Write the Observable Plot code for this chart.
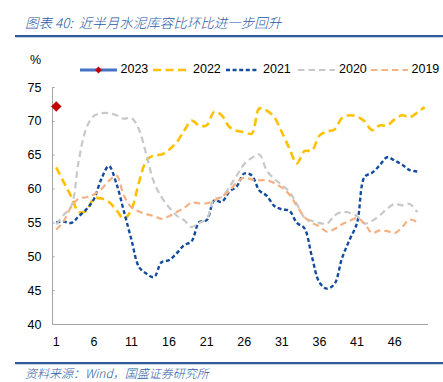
<!DOCTYPE html>
<html><head><meta charset="utf-8">
<script src="https://cdn.jsdelivr.net/npm/d3@7"></script>
<script src="https://cdn.jsdelivr.net/npm/@observablehq/plot@0.6"></script>
<style>
body{margin:0;background:#fff;}
#wrap{position:relative;width:443px;height:382px;overflow:hidden;font-family:"Liberation Sans",Arial,sans-serif;color:#000;}
.title{position:absolute;left:25px;top:13px;font-family:"Noto Sans CJK SC",sans-serif;font-style:italic;font-weight:300;font-size:13.5px;line-height:18px;color:#2A5AA6;white-space:nowrap;}
.source{position:absolute;left:25px;top:365px;font-family:"Noto Sans CJK SC",sans-serif;font-style:italic;font-weight:300;font-size:12px;line-height:16px;color:#2A5AA6;white-space:nowrap;}
.rule{position:absolute;left:15px;width:428px;height:2px;background:#2E5A9C;box-shadow:0 1px 1px #BFD0E8;}
.unit{position:absolute;left:30px;top:52px;font-size:12.5px;line-height:16px;}
.lg{position:absolute;top:62px;font-size:12.5px;line-height:15px;white-space:nowrap;}
.sw{position:absolute;top:63px;}
#plot{position:absolute;left:0;top:76px;}
</style></head>
<body><div id="wrap">
<div class="title">图表 40:&nbsp; 近半月水泥库容比环比进一步回升</div>
<div class="rule" style="top:35px"></div>
<div class="unit">%</div>
<div id="legend"></div>
<div id="plot"></div>
<div class="rule" style="top:362px"></div>
<div class="source">资料来源：Wind，国盛证券研究所</div>
</div>
<script>
const weeks = d3.range(1, 51);
const xTicks = [1, 6, 11, 16, 21, 26, 31, 36, 41, 46];
const yTicks = [40, 45, 50, 55, 60, 65, 70, 75];
const seriesNames = ["2023", "2022", "2021", "2020", "2019"];
const s2023 = [72.2];
const s2022 = [63.2, 61.0, 58.9, 56.6, 56.8, 58.6, 58.6, 58.1, 56.9, 55.6,
  57.0, 61.0, 64.2, 65.0, 65.1, 65.8, 66.9, 68.6, 70.1, 69.4,
  69.4, 71.4, 70.9, 69.2, 68.6, 68.4, 68.2, 71.9, 71.6, 70.6,
  68.4, 66.0, 63.8, 65.6, 65.7, 67.9, 68.5, 68.8, 70.5, 70.9,
  70.7, 70.0, 68.7, 69.4, 69.4, 70.3, 70.9, 70.6, 71.3, 72.1];
const s2021 = [55.1, 55.2, 55.0, 56.0, 57.0, 58.5, 61.5, 63.4, 60.8, 56.7,
  52.5, 48.5, 47.5, 47.0, 49.2, 49.5, 50.5, 51.7, 52.3, 55.1,
  55.4, 58.3, 58.1, 59.6, 60.4, 62.3, 62.0, 59.8, 59.0, 57.5,
  57.0, 56.8, 55.0, 54.2, 50.0, 46.2, 45.3, 46.0, 49.8, 52.5,
  55.0, 61.8, 62.4, 63.5, 64.7, 64.2, 63.6, 62.8, 62.6];
const s2020 = [54.8, 56.2, 57.5, 64.3, 69.0, 70.8, 71.2, 71.2, 70.9, 70.4,
  70.5, 68.8, 65.0, 61.0, 58.8, 57.3, 56.1, 55.4, 54.4, 55.0,
  55.6, 58.5, 58.8, 60.3, 62.0, 63.7, 64.6, 65.1, 62.7, 61.5,
  60.6, 59.6, 57.8, 55.8, 55.3, 55.0, 54.9, 56.1, 56.6, 56.5,
  56.0, 54.9, 55.3, 56.1, 57.1, 57.8, 57.6, 57.8, 56.6];
const s2019 = [54.0, 55.3, 57.4, 58.6, 58.8, 59.2, 60.0, 61.2, 62.0, 59.0,
  57.3, 56.7, 56.3, 56.0, 55.6, 56.0, 56.6, 57.2, 58.0, 57.9,
  57.9, 58.3, 58.9, 59.7, 61.0, 61.7, 61.4, 61.3, 61.3, 60.9,
  60.2, 59.2, 57.5, 55.9, 55.0, 54.5, 53.7, 54.1, 54.8, 55.3,
  55.7, 54.9, 53.5, 53.9, 53.8, 53.5, 54.4, 55.5, 55.1];

const styles = {
  "2022": {stroke: "#FFC000", width: 2.6, dash: "8,4.5"},
  "2021": {stroke: "#134C9E", width: 2.4, dash: "4,2.6"},
  "2020": {stroke: "#C8C8C8", width: 2.2, dash: "6.5,4"},
  "2019": {stroke: "#F4B183", width: 2.2, dash: "6.5,4"}
};
const toRows = (vals) => vals.map((v, i) => ({week: weeks[i], value: v}));

const axisColor = "#A6A6A6";
const marks = [
  Plot.ruleY([40], {stroke: axisColor, strokeWidth: 1}),
  Plot.ruleX([0.5], {y1: 40, y2: 75, stroke: axisColor, strokeWidth: 1}),
  Plot.ruleY(yTicks, {x1: 0.5, x2: 0.85, stroke: axisColor, strokeWidth: 1}),
  Plot.axisY(yTicks, {tickSize: 0, tickPadding: 11, fontSize: 12.5, fill: "#000", label: null}),
  Plot.axisX(xTicks, {tickSize: 0, tickPadding: 13, fontSize: 12.5, fill: "#000", label: null})
];
[["2022", s2022], ["2021", s2021], ["2020", s2020], ["2019", s2019]].forEach(([name, vals]) => {
  const st = styles[name];
  marks.push(Plot.line(toRows(vals), {x: "week", y: "value", stroke: st.stroke, strokeWidth: st.width,
    strokeDasharray: st.dash, curve: "catmull-rom", strokeLinecap: "butt"}));
});
marks.push(Plot.dot(toRows(s2023), {x: "week", y: "value", symbol: "diamond2", r: 4.5, fill: "#C00000", stroke: "#C00000", strokeWidth: 0.5}));

const chart = Plot.plot({
  width: 443, height: 275,
  marginLeft: 52, marginRight: 15, marginTop: 11, marginBottom: 27,
  x: {domain: [0.5, 50.5], axis: null, label: null},
  y: {domain: [40, 75], axis: null, label: null},
  style: {fontFamily: "'Liberation Sans', Arial, sans-serif", background: "transparent", overflow: "visible"},
  marks
});
document.getElementById("plot").appendChild(chart);

// legend
const legendItems = [
  {name: seriesNames[0], x1: 80, x2: 117, tx: 120.5, stroke: "#4472C4", width: 3.2, dash: null, marker: true},
  {name: seriesNames[1], x1: 153, x2: 188.5, tx: 193, ...styles["2022"]},
  {name: seriesNames[2], x1: 226, x2: 258.5, tx: 263, ...styles["2021"]},
  {name: seriesNames[3], x1: 298, x2: 335, tx: 339, ...styles["2020"]},
  {name: seriesNames[4], x1: 370.5, x2: 407.5, tx: 411.5, ...styles["2019"]}
];
const lg = document.getElementById("legend");
legendItems.forEach(it => {
  const w = it.x2 - it.x1;
  const svg = d3.create("svg").attr("class", "sw").attr("width", w).attr("height", 12)
    .style("left", it.x1 + "px").style("top", "63.5px");
  svg.append("line").attr("x1", 0).attr("x2", w).attr("y1", 6).attr("y2", 6)
    .attr("stroke", it.stroke).attr("stroke-width", it.width)
    .attr("stroke-dasharray", it.dash);
  if (it.marker) {
    svg.append("path").attr("d", d3.symbol(d3.symbolDiamond2, 30)()).attr("transform", `translate(${w / 2},6)`)
      .attr("fill", "#C00000");
  }
  lg.appendChild(svg.node());
  const t = document.createElement("div");
  t.className = "lg"; t.style.left = it.tx + "px"; t.textContent = it.name;
  lg.appendChild(t);
});
</script>
</body></html>
